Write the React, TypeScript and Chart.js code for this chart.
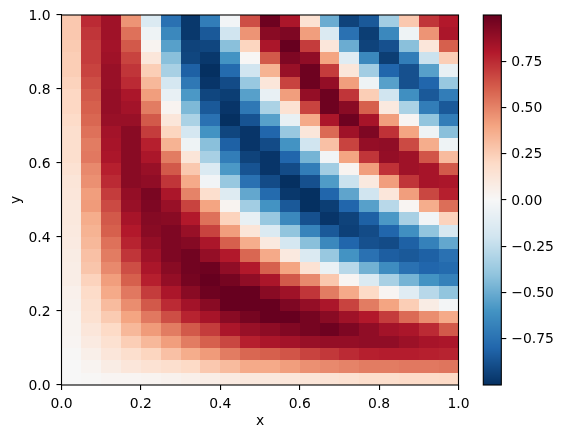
import React, { useEffect, useRef } from "react";
import { Chart, registerables } from "chart.js";

Chart.register(...registerables);

const FONT = '"DejaVu Sans"';
const xTicks = [0, 0.2, 0.4, 0.6, 0.8, 1.0];
const yTicks = [0, 0.2, 0.4, 0.6, 0.8, 1.0];
const barTicks = [-0.75, -0.5, -0.25, 0, 0.25, 0.5, 0.75];
const valueMin = -0.999;
const valueMax = 0.999;

// RdBu reversed, from low to high
const paletteStops = ["#053061", "#2166ac", "#4393c3", "#92c5de", "#d1e5f0", "#f7f7f7", "#fddbc7", "#f4a582", "#d6604d", "#b2182b", "#67001f"];

// cell values, top row first
const cellRows: number[][] = [
  [.27, .75, .85, .45, -.15, -.75, -.97, -.7, -.03, .65, .98, .82, .15, -.5, -.93, -.85, -.35, .27, .72, .8],
  [.27, .72, .85, .55, -.05, -.65, -.97, -.85, -.2, .45, .91, .94, .42, -.15, -.75, -.95, -.65, -.05, .45, .82],
  [.26, .7, .84, .62, .03, -.55, -.93, -.92, -.42, .22, .82, 1, .7, .12, -.5, -.93, -.88, -.42, .12, .6],
  [.25, .7, .85, .68, .12, -.42, -.92, -.97, -.6, .01, .62, .94, .89, .4, -.12, -.65, -.95, -.7, -.22, .25],
  [.25, .68, .87, .72, .25, -.33, -.82, -1, -.78, -.2, .35, .87, .98, .7, .12, -.35, -.8, -.88, -.55, -.08],
  [.23, .65, .87, .75, .33, -.18, -.72, -.98, -.9, -.38, .12, .68, .98, .88, .42, -.05, -.55, -.88, -.8, -.38],
  [.21, .62, .88, .82, .42, -.08, -.58, -.92, -.95, -.55, -.08, .42, .88, .98, .72, .25, -.2, -.62, -.85, -.7],
  [.21, .6, .88, .84, .52, .03, -.45, -.85, -.98, -.72, -.32, .15, .68, .98, .91, .6, .1, -.32, -.7, -.85],
  [.19, .58, .87, .87, .62, .12, -.32, -.75, -1, -.87, -.55, -.08, .38, .82, .98, .83, .42, .02, -.4, -.7],
  [.17, .55, .84, .91, .7, .22, -.18, -.6, -.92, -.98, -.8, -.38, .12, .57, .85, .94, .73, .4, -.05, -.42],
  [.17, .52, .83, .91, .78, .35, -.05, -.42, -.82, -.98, -.9, -.6, -.2, .3, .68, .88, .89, .66, .37, -.05],
  [.17, .53, .82, .91, .82, .52, .13, -.33, -.7, -.93, -.98, -.8, -.47, -.03, .4, .72, .88, .85, .63, .32],
  [.15, .48, .78, .91, .87, .62, .27, -.15, -.58, -.87, -.98, -.9, -.7, -.35, .03, .42, .73, .85, .83, .62],
  [.13, .46, .75, .91, .89, .72, .38, -.03, -.38, -.75, -.9, -1, -.88, -.57, -.22, .1, .42, .72, .83, .82],
  [.12, .42, .7, .88, .95, .82, .5, .17, -.13, -.52, -.78, -.97, -1, -.8, -.53, -.2, .12, .42, .67, .78],
  [.11, .43, .66, .87, .94, .87, .68, .4, .03, -.35, -.6, -.85, -1, -.95, -.8, -.55, -.28, .02, .37, .56],
  [.11, .37, .62, .83, .92, .91, .8, .55, .23, -.08, -.38, -.65, -.88, -.98, -.93, -.82, -.58, -.33, -.03, .23],
  [.1, .35, .6, .8, .91, .94, .87, .68, .42, .13, -.15, -.4, -.67, -.85, -.94, -.9, -.8, -.62, -.4, -.17],
  [.09, .33, .55, .77, .88, .94, .92, .82, .6, .37, .1, -.18, -.42, -.65, -.8, -.88, -.9, -.82, -.68, -.52],
  [.08, .3, .52, .72, .85, .94, .97, .88, .8, .58, .38, .1, -.15, -.38, -.6, -.75, -.83, -.85, -.82, -.75],
  [.07, .28, .48, .65, .82, .91, .97, .98, .89, .8, .6, .4, .15, -.07, -.28, -.48, -.63, -.75, -.8, -.78],
  [.07, .23, .42, .6, .78, .88, .96, 1, .96, .89, .82, .62, .48, .27, .02, -.15, -.33, -.47, -.6, -.68],
  [.05, .19, .38, .53, .7, .82, .91, .98, 1, 1, .91, .85, .72, .52, .38, .2, .02, -.12, -.28, -.4],
  [.04, .17, .32, .47, .62, .75, .84, .91, 1, 1, 1, .94, .88, .82, .68, .52, .4, .25, .08, -.02],
  [.03, .16, .26, .4, .53, .65, .77, .83, .91, .96, 1, 1, .96, .91, .85, .8, .7, .57, .47, .38],
  [.03, .12, .2, .33, .43, .52, .62, .7, .82, .87, .9, .93, .96, .98, .94, .89, .84, .82, .75, .62],
  [.02, .09, .16, .25, .33, .42, .52, .6, .67, .78, .82, .84, .87, .88, .88, .89, .89, .86, .83, .82],
  [.01, .06, .12, .17, .22, .3, .37, .43, .52, .58, .6, .63, .68, .71, .75, .78, .79, .79, .78, .77],
  [0, .03, .08, .12, .15, .17, .2, .27, .32, .38, .38, .42, .46, .48, .5, .52, .52, .53, .53, .54],
  [0, .01, .02, .02, .03, .04, .06, .07, .09, .11, .11, .12, .13, .14, .16, .18, .18, .19, .19, .2],
];

const parsedStops = paletteStops.map((h) => [1, 3, 5].map((i) => parseInt(h.slice(i, i + 2), 16)));
function colorOf(v: number): string {
  const t = Math.min(0.99999, Math.max(0, (v + 1) / 2)) * (parsedStops.length - 1);
  const i = Math.floor(t);
  const f = t - i;
  const a = parsedStops[i];
  const b = parsedStops[i + 1];
  return `rgb(${a.map((c, k) => Math.round(c + (b[k] - c) * f)).join(",")})`;
}

const cellPoints = cellRows.flatMap((row, r) =>
  row.map((v, c) => ({ x: (c + 0.5) / row.length, y: 1 - (r + 0.5) / cellRows.length, v }))
);

const spines = {
  id: "spines",
  afterDraw(chart: any) {
    const { ctx, chartArea: a } = chart;
    ctx.save();
    ctx.strokeStyle = "#000";
    ctx.lineWidth = 1.1;
    ctx.strokeRect(a.left, a.top, a.right - a.left, a.bottom - a.top);
    ctx.restore();
  },
};

const cellsPlugin = {
  id: "cells",
  beforeDatasetsDraw(chart: any) {
    const { ctx, scales } = chart;
    const rows = cellRows.length;
    const cols = cellRows[0].length;
    cellPoints.forEach((p) => {
      const x0 = Math.round(scales.x.getPixelForValue(p.x - 0.5 / cols));
      const x1 = Math.round(scales.x.getPixelForValue(p.x + 0.5 / cols));
      const y0 = Math.round(scales.y.getPixelForValue(p.y + 0.5 / rows));
      const y1 = Math.round(scales.y.getPixelForValue(p.y - 0.5 / rows));
      ctx.fillStyle = colorOf(p.v);
      ctx.fillRect(x0, y0, x1 - x0, y1 - y0);
    });
  },
};

const barPlugin = {
  id: "gradientBar",
  beforeDatasetsDraw(chart: any) {
    const { ctx, chartArea: a, scales } = chart;
    for (let py = Math.floor(a.top); py < a.bottom; py++) {
      ctx.fillStyle = colorOf(scales.y.getValueForPixel(py + 0.5));
      ctx.fillRect(a.left, py, a.right - a.left, 1);
    }
  },
};

const tickStyle = { color: "#000", font: { family: FONT, size: 13.9 } };
const gridStyle = { drawOnChartArea: false, color: "#000", lineWidth: 1.1, tickLength: 5, tickColor: "#000", tickWidth: 1.1 };
const minus = (s: string) => s.replace("-", "\u2212");

export default function App() {
  const mainRef = useRef<HTMLCanvasElement>(null);
  const barRef = useRef<HTMLCanvasElement>(null);
  useEffect(() => {
    const main = new Chart(mainRef.current!, {
      type: "scatter",
      data: { datasets: [{ data: cellPoints, pointRadius: 0, showLine: false }] },
      plugins: [cellsPlugin, spines],
      options: {
        responsive: false,
        animation: false,
        events: [],
        layout: { padding: { top: 15, right: 104.5, left: 0, bottom: 0 } },
        plugins: { legend: { display: false }, tooltip: { enabled: false } },
        scales: {
          x: {
            type: "linear", min: 0, max: 1,
            afterFit: (s: any) => { s.height = 53; },
            afterBuildTicks: (s: any) => { s.ticks = xTicks.map((value) => ({ value })); },
            grid: gridStyle,
            border: { display: false },
            ticks: { ...tickStyle, padding: 6, maxRotation: 0, callback: (v: any) => Number(v).toFixed(1) },
            title: { display: true, text: "x", color: "#000", font: { family: FONT, size: 13.9 }, padding: { top: 2, bottom: 8 } },
          },
          y: {
            type: "linear", min: 0, max: 1,
            afterFit: (s: any) => { s.width = 61.5; },
            afterBuildTicks: (s: any) => { s.ticks = yTicks.map((value) => ({ value })); },
            grid: gridStyle,
            border: { display: false },
            ticks: { ...tickStyle, padding: 6, labelOffset: 1, callback: (v: any) => Number(v).toFixed(1) },
            title: { display: true, text: "y", color: "#000", font: { family: FONT, size: 13.9 }, padding: { top: 8, bottom: 0 } },
          },
        },
      },
    } as any);
    const bar = new Chart(barRef.current!, {
      type: "scatter",
      data: { datasets: [{ data: barTicks.map((y) => ({ x: 0, y })), pointRadius: 0, showLine: false }] },
      plugins: [barPlugin, spines],
      options: {
        responsive: false,
        animation: false,
        events: [],
        layout: { padding: { top: 15, right: 0, left: 3.3, bottom: 53 } },
        plugins: { legend: { display: false }, tooltip: { enabled: false } },
        scales: {
          x: { type: "linear", display: false, min: 0, max: 1 },
          y: {
            type: "linear", position: "right", min: valueMin, max: valueMax,
            afterFit: (s: any) => { s.width = 61.7; },
            afterBuildTicks: (s: any) => { s.ticks = barTicks.map((value) => ({ value })); },
            grid: gridStyle,
            border: { display: false },
            ticks: { ...tickStyle, padding: 5, labelOffset: 1, callback: (v: any) => minus(Number(v).toFixed(2)) },
          },
        },
      },
    } as any);
    return () => {
      main.destroy();
      bar.destroy();
    };
  }, []);
  return (
    <div style={{ position: "absolute", left: 0, top: 0, width: 563, height: 438, background: "#fff" }}>
      <canvas ref={mainRef} width={563} height={438} style={{ position: "absolute", left: 0, top: 0 }} />
      <canvas ref={barRef} width={83} height={438} style={{ position: "absolute", left: 480, top: 0 }} />
    </div>
  );
}
